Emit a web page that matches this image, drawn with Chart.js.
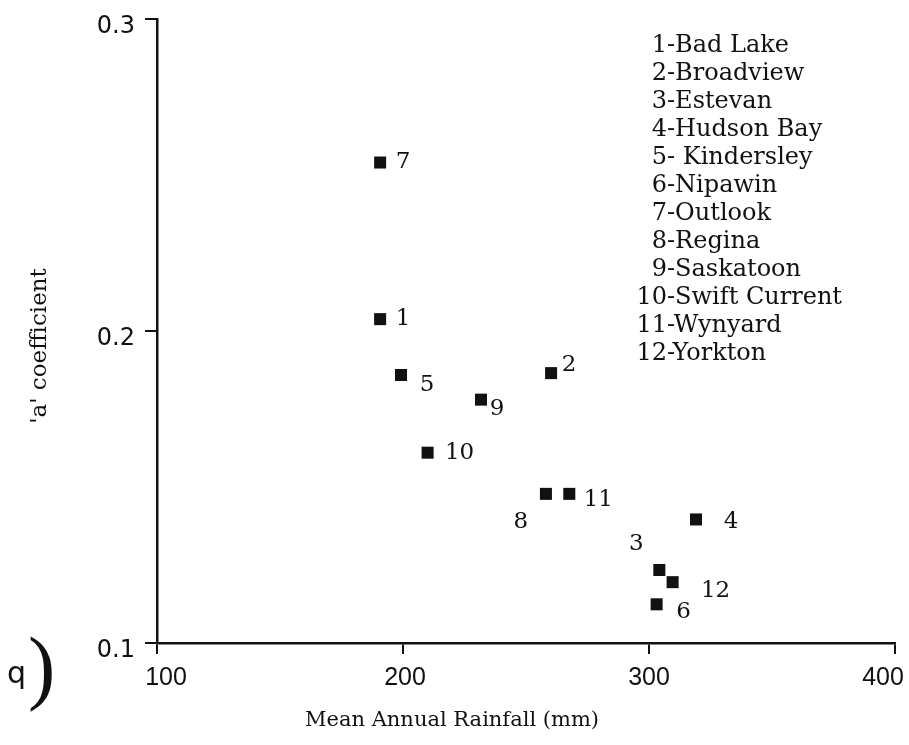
<!DOCTYPE html>
<html>
<head>
<meta charset="utf-8">
<script src="https://cdn.jsdelivr.net/npm/chart.js@4.4.1/dist/chart.umd.min.js"></script>
<style>
  html, body { margin: 0; padding: 0; background: #fff; }
  #wrap { width: 909px; height: 745px; position: relative; }
</style>
</head>
<body>
<div id="wrap"><canvas id="myChart" width="909" height="745"></canvas></div>
<script>
// data
const stationIds = [1, 2, 3, 4, 5, 6, 7, 8, 9, 10, 11, 12];
const stationNames = ['Bad Lake', 'Broadview', 'Estevan', 'Hudson Bay', ' Kindersley', 'Nipawin',
  'Outlook', 'Regina', 'Saskatoon', 'Swift Current', 'Wynyard', 'Yorkton'];
const rainfall = [190.7, 260.2, 304.2, 319.1, 199.2, 303.1, 190.7, 258.1, 231.7, 210.0, 267.6, 309.6];
const coefA = [0.2038, 0.1865, 0.1234, 0.1396, 0.1859, 0.1124, 0.254, 0.1478, 0.178, 0.161, 0.1478, 0.1195];
const xTicks = [100, 200, 300, 400];
const yTicks = [0.1, 0.2, 0.3];
const xTitle = 'Mean Annual Rainfall (mm)';
const yTitle = "'a' coefficient";

// where each number sits next to its square (px)
const labelShift = [[23, 0], [18, -8], [-23, -26], [35, 3], [26, 10], [27, 8],
  [23, 0], [-25, 28], [16, 9], [32, 0], [29, 6], [43, 9]];
const xLabelShift = [9, 2, 0, -12];

const ink = '#111';
const serif = 'DejaVu Serif, serif';

// numbers beside points, station list, tick labels on x, titles, panel mark
const extraText = {
  id: 'extraText',
  afterDatasetsDraw(chart) {
    const ctx = chart.ctx;
    const meta = chart.getDatasetMeta(0);
    ctx.save();
    ctx.fillStyle = ink;
    ctx.font = '23px ' + serif;
    ctx.textAlign = 'center';
    ctx.textBaseline = 'middle';
    meta.data.forEach((pt, i) => {
      ctx.fillText(String(stationIds[i]), pt.x + labelShift[i][0], pt.y + labelShift[i][1]);
    });

    // station list
    ctx.font = '24px ' + serif;
    stationIds.forEach((id, i) => {
      const y = 46 + i * 28;
      ctx.textAlign = 'right';
      ctx.fillText(String(id), 667, y);
      ctx.textAlign = 'left';
      ctx.fillText('-' + stationNames[i], 667, y);
    });

    // x tick labels
    const xs = chart.scales.x;
    ctx.font = '25px Liberation Sans, sans-serif';
    ctx.textAlign = 'center';
    xTicks.forEach((v, i) => {
      ctx.fillText(String(v), xs.getPixelForValue(v) + xLabelShift[i], 678);
    });

    // axis titles
    ctx.font = '21px ' + serif;
    ctx.fillText(xTitle, 452, 721);
    ctx.save();
    ctx.translate(40, 346);
    ctx.rotate(-Math.PI / 2);
    ctx.font = '23px ' + serif;
    ctx.fillText(yTitle, 0, 0);
    ctx.restore();

    // panel mark
    ctx.textAlign = 'left';
    ctx.textBaseline = 'alphabetic';
    ctx.font = '30px DejaVu Sans, sans-serif';
    ctx.fillText('q', 7, 683);
    ctx.font = '82px DejaVu Sans ExtraLight, Liberation Serif, serif';
    ctx.fillText(')', 28, 694);
    ctx.restore();
  }
};

const ctx = document.getElementById('myChart').getContext('2d');
const myChart = new Chart(ctx, {
  type: 'scatter',
  data: {
    datasets: [{
      data: rainfall.map((r, i) => ({ x: r, y: coefA[i] })),
      pointStyle: 'rect',
      radius: 8.5,
      backgroundColor: ink,
      borderColor: ink,
      borderWidth: 0
    }]
  },
  options: {
    responsive: false,
    animation: false,
    layout: { padding: { left: 0, right: 14, top: 19, bottom: 0 } },
    plugins: { legend: { display: false }, tooltip: { enabled: false } },
    scales: {
      x: {
        type: 'linear',
        min: 100,
        max: 400,
        afterBuildTicks: s => { s.ticks = xTicks.map(v => ({ value: v })); },
        afterFit: s => { s.height = 102; s.paddingLeft = 0; s.paddingRight = 0; },
        grid: { drawOnChartArea: false, drawTicks: true, tickLength: 11, color: ink, lineWidth: 2 },
        border: { color: ink, width: 2.5 },
        ticks: { display: false }
      },
      y: {
        min: 0.1,
        max: 0.3,
        afterBuildTicks: s => { s.ticks = yTicks.map(v => ({ value: v })); },
        afterFit: s => { s.width = 157; s.paddingTop = 0; s.paddingBottom = 0; },
        grid: { drawOnChartArea: false, drawTicks: true, tickLength: 12, color: ink, lineWidth: 2 },
        border: { color: ink, width: 2.5 },
        ticks: {
          color: ink,
          font: { family: 'DejaVu Sans, sans-serif', size: 24 },
          padding: 10,
          labelOffset: 8,
          callback: v => v.toFixed(1)
        }
      }
    }
  },
  plugins: [extraText]
});
</script>
</body>
</html>
